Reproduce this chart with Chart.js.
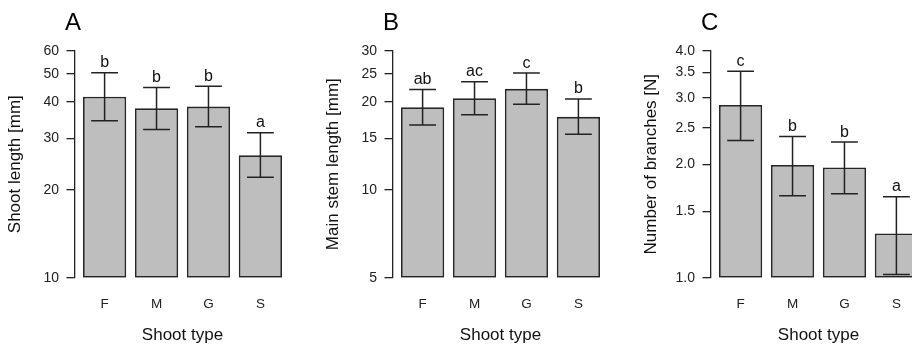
<!DOCTYPE html>
<html>
<head>
<meta charset="utf-8">
<script src="https://cdn.jsdelivr.net/npm/chart.js@4/dist/chart.umd.min.js"></script>
<style>
  html, body { margin: 0; padding: 0; background: #fff; }
  body { width: 912px; height: 348px; position: relative; overflow: hidden; }
  canvas { position: absolute; top: 0; }
</style>
</head>
<body>
<canvas id="panelA" width="315" height="348" style="left:-5px"></canvas>
<canvas id="panelB" width="315" height="348" style="left:313px"></canvas>
<canvas id="panelC" width="315" height="348" style="left:631px"></canvas>
<script>
// Shoot types on the x axis
const shootTypes = ['F', 'M', 'G', 'S'];

// Panel A: shoot length [mm] (mean with lower/upper interval)
const lengthMean   = [41.7, 38.1, 38.6, 26.3];
const lengthUpper  = [50.4, 44.9, 45.3, 31.4];
const lengthLower  = [34.5, 32.2, 32.9, 22.1];
const lengthGroups = ['b', 'b', 'b', 'a'];
const lengthTicks  = [10, 20, 30, 40, 50, 60];

// Panel B: main stem length [mm]
const stemMean   = [19.2, 20.6, 22.2, 17.8];
const stemUpper  = [22.1, 23.5, 25.15, 20.5];
const stemLower  = [16.7, 18.1, 19.65, 15.5];
const stemGroups = ['ab', 'ac', 'c', 'b'];
const stemTicks  = [5, 10, 15, 20, 25, 30];

// Panel C: number of branches [N]
const branchMean   = [2.87, 1.99, 1.96, 1.31];
const branchUpper  = [3.53, 2.37, 2.29, 1.64];
const branchLower  = [2.31, 1.65, 1.67, 1.02];
const branchGroups = ['c', 'b', 'b', 'a'];
const branchTicks  = [1.0, 1.5, 2.0, 2.5, 3.0, 3.5, 4.0];

const FONT = 'Liberation Sans, Arial, Helvetica, sans-serif';
const INK = '#222222';

// barplot-style layout: unit-wide bars separated by 0.2 gaps, 4% padding on the range
const SPACE = 0.2;
const barCenter = i => SPACE + i * (1 + SPACE) + 0.5;
const span = shootTypes.length * (1 + SPACE) - SPACE;
const xMin = SPACE - 0.04 * span;
const xMax = SPACE + span + 0.04 * span;

// Error bars, group letters and the panel letter
const annotate = {
  id: 'annotate',
  afterDatasetsDraw(chart, args, opts) {
    const ctx = chart.ctx;
    const y = chart.scales.y;
    const meta = chart.getDatasetMeta(0);
    ctx.save();
    ctx.strokeStyle = INK;
    ctx.lineWidth = 1.5;
    meta.data.forEach((bar, i) => {
      const cx = bar.x;
      const half = bar.width * 0.31;
      const top = y.getPixelForValue(opts.upper[i]);
      const bot = y.getPixelForValue(opts.lower[i]);
      ctx.beginPath();
      ctx.moveTo(cx, top); ctx.lineTo(cx, bot);
      ctx.moveTo(cx - half, top); ctx.lineTo(cx + half, top);
      ctx.moveTo(cx - half, bot); ctx.lineTo(cx + half, bot);
      ctx.stroke();
      ctx.fillStyle = '#111';
      ctx.font = '16px ' + FONT;
      ctx.textAlign = 'center';
      ctx.textBaseline = 'alphabetic';
      ctx.fillText(opts.groups[i], cx, top - 5.5);
    });
    ctx.fillStyle = '#000';
    ctx.font = '24px ' + FONT;
    ctx.textAlign = 'left';
    ctx.textBaseline = 'alphabetic';
    ctx.fillText(opts.letter, chart.chartArea.left - 10, 30);
    ctx.restore();
  }
};

function makePanel(id, letter, mean, upper, lower, groups, ticks, yTitle, fmt) {
  return new Chart(document.getElementById(id), {
    type: 'bar',
    data: {
      datasets: [{
        data: mean.map((v, i) => ({ x: barCenter(i), y: v })),
        backgroundColor: '#bebebe',
        borderColor: '#262626',
        borderWidth: 1.8,
        borderSkipped: false,
        categoryPercentage: 1,
        barPercentage: 1 / (1 + SPACE)
      }]
    },
    options: {
      responsive: false,
      animation: false,
      layout: { padding: { top: 50.7, right: 20, bottom: 0, left: 0 } },
      plugins: {
        legend: { display: false },
        tooltip: { enabled: false },
        annotate: { upper, lower, groups, letter }
      },
      scales: {
        x: {
          type: 'linear',
          min: xMin,
          max: xMax,
          offset: false,
          grid: { display: false, drawTicks: false, offset: false },
          border: { display: false },
          afterBuildTicks: s => { s.ticks = shootTypes.map((_, i) => ({ value: barCenter(i) })); },
          afterFit: s => { s.height = 70.3; },
          ticks: {
            autoSkip: false,
            maxRotation: 0,
            padding: 18,
            color: INK,
            font: { family: FONT, size: 13.5 },
            callback: (v, i) => shootTypes[i]
          },
          title: {
            display: true,
            text: 'Shoot type',
            color: '#111',
            font: { family: FONT, size: 17 },
            padding: { top: 0, bottom: 2.7 }
          }
        },
        y: {
          type: 'logarithmic',
          min: ticks[0],
          max: ticks[ticks.length - 1],
          afterBuildTicks: s => { s.ticks = ticks.map(v => ({ value: v })); },
          afterFit: s => { s.width = 80; },
          grid: {
            display: true,
            drawOnChartArea: false,
            drawTicks: true,
            tickLength: 8.5,
            color: INK,
            lineWidth: 1.3
          },
          border: { display: true, color: INK, width: 1.3 },
          ticks: {
            padding: 7.5,
            color: INK,
            font: { family: FONT, size: 14 },
            callback: v => fmt(v)
          },
          title: {
            display: true,
            text: yTitle,
            color: '#111',
            font: { family: FONT, size: 17 },
            padding: { top: 9.8, bottom: 0 }
          }
        }
      }
    },
    plugins: [annotate]
  });
}

const intFmt = v => String(Math.round(v));
const oneDec = v => Number(v).toFixed(1);

makePanel('panelA', 'A', lengthMean, lengthUpper, lengthLower, lengthGroups, lengthTicks, 'Shoot length [mm]', intFmt);
makePanel('panelB', 'B', stemMean, stemUpper, stemLower, stemGroups, stemTicks, 'Main stem length [mm]', intFmt);
makePanel('panelC', 'C', branchMean, branchUpper, branchLower, branchGroups, branchTicks, 'Number of branches [N]', oneDec);
</script>
</body>
</html>
